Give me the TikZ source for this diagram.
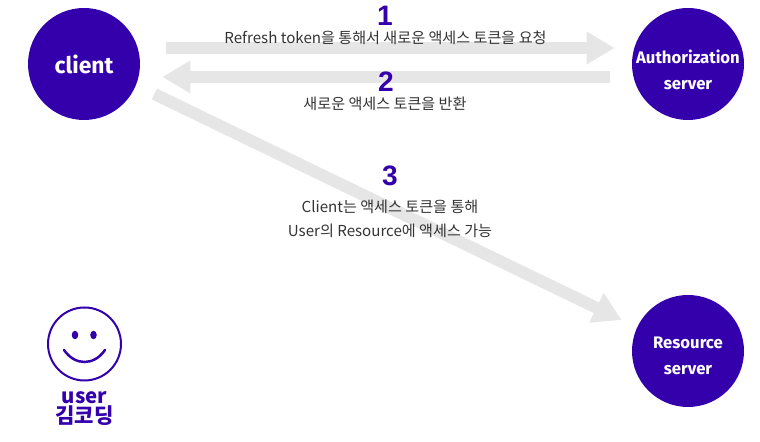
\documentclass[tikz,border=0pt]{standalone}
\usepackage{fontspec}
\usepackage{xcolor}
\usepackage{tikz}
\usetikzlibrary{shapes.geometric, arrows.meta}
\setmainfont{Noto Sans CJK KR}
\newfontfamily\labelfont{Fira Sans}
\newfontfamily\numfont{Liberation Sans}
\definecolor{violet1}{HTML}{3300AC}
\definecolor{flowgray}{HTML}{E6E6E6}
\definecolor{textgray}{HTML}{333333}

\begin{document}
\begin{tikzpicture}[
  server/.style={circle, fill=violet1, minimum size=2.24cm, inner sep=0pt},
  stext/.style={text=white, inner sep=0pt, align=center, font=\labelfont\bfseries\fontsize{9.5}{14.8}\selectfont},
  flow/.style={-{Triangle[length=.56cm, width=.62cm]}, line width=.24cm, draw=flowgray},
  num/.style={text=violet1, inner sep=0pt, font=\numfont\bfseries\fontsize{16}{16}\selectfont},
  caption/.style={text=textgray, inner sep=0pt, align=center, font=\fontsize{8.6}{13.6}\selectfont},
  eye/.style={ellipse, fill=violet1, minimum width=.13cm, minimum height=.17cm, inner sep=0pt}]
\useasboundingbox (0,0) rectangle (15.2,8.84);

\node(client)[server, text=white, font=\labelfont\bfseries\fontsize{13}{13}\selectfont] at (1.68,7.56) {client};
\node(auth)[server] at (13.76,7.56) {};
\node(res)[server] at (13.76,1.82) {};
\node(authtext)[stext] at (13.76,7.44) {Authorization\\server};
\node(restext)[stext] at (13.76,1.72) {Resource\\server};

\draw[flow] ([shift={(.52,.32)}]client.east) -- ([shift={(-.34,.32)}]auth.west);
\draw[flow] ([shift={(-.44,-.26)}]auth.west) -- ([shift={(.44,-.26)}]client.east);
\draw[flow] ([shift={(.28,-.6)}]client.east) -- ([shift={(-.2,.62)}]res.west);

\node(n1)[num] at (7.7,8.52) {1};
\node(t1)[caption] at (7.71,8.09) {Refresh token을 통해서 새로운 액세스 토큰을 요청};
\node(n2)[num] at (7.72,7.2) {2};
\node(t2)[caption] at (7.7,6.76) {새로운 액세스 토큰을 반환};
\node(n3)[num] at (7.8,5.32) {3};
\node(t3)[caption] at (7.8,4.47) {Client는 액세스 토큰을 통해\\User의 Resource에 액세스 가능};

\node(face)[circle, draw=violet1, line width=.04cm, minimum size=1.46cm, inner sep=0pt] at (1.69,1.96) {};
\node(eyeL)[eye] at (1.5,2.14) {};
\node(eyeR)[eye] at (1.87,2.14) {};
\coordinate(mouthL) at (1.28,1.84);
\coordinate(mouthR) at (2.1,1.84);
\draw[violet1, line width=.05cm, line cap=round] (mouthL) .. controls (1.5,1.52) and (1.88,1.52) .. (mouthR);

\node(user)[text=violet1, inner sep=0pt, font=\bfseries\fontsize{11.6}{11.6}\selectfont] at (1.69,.89) {user};
\node(name)[text=violet1, inner sep=0pt, font=\bfseries\fontsize{12}{12}\selectfont] at (1.69,.53) {김코딩};
\end{tikzpicture}
\end{document}
